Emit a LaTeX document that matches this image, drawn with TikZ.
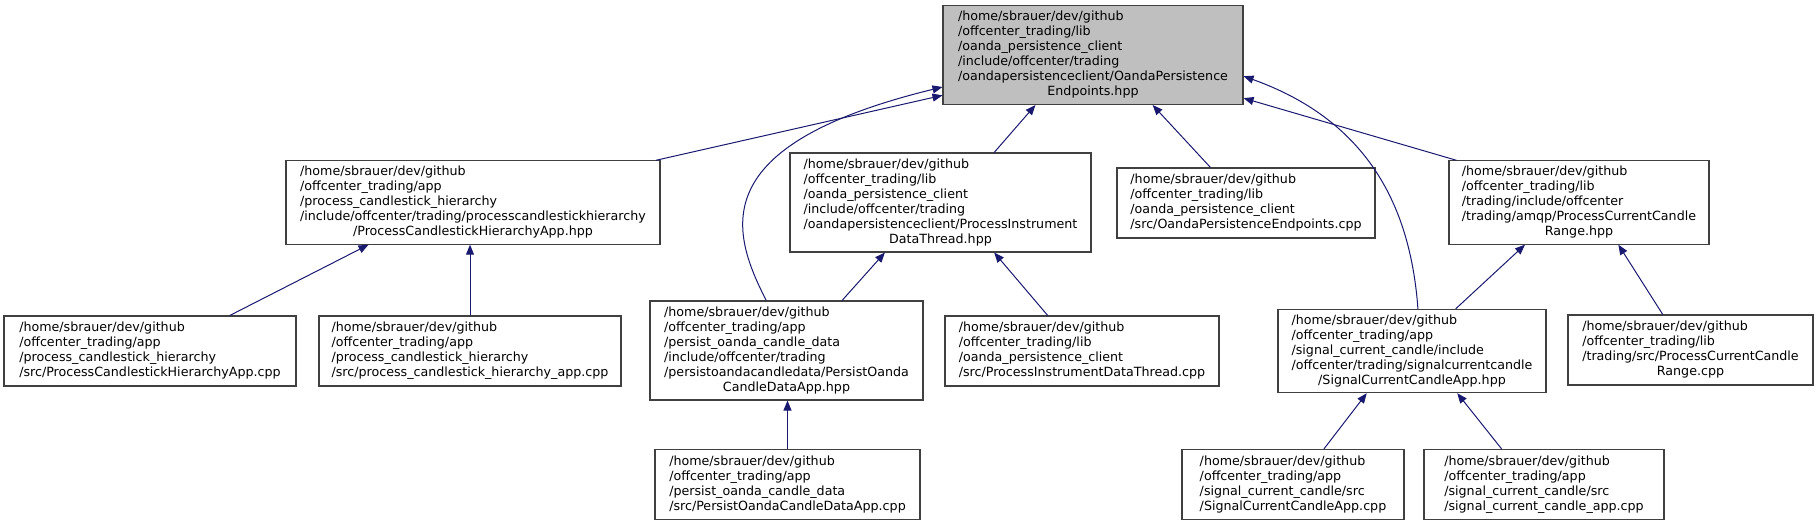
\documentclass[tikz,border=0pt]{standalone}
\usepackage{fontspec}
\setmainfont{DejaVu Sans}
\usetikzlibrary{arrows.meta}
\definecolor{edgeblue}{HTML}{191970}
\definecolor{boxline}{HTML}{404040}
\newcommand{\pathlines}[2]{\begin{tabular}{@{}l@{}}#1\\\multicolumn{1}{@{}c@{}}{#2}\end{tabular}}

\begin{document}
\begin{tikzpicture}[x=0.75pt,y=-0.75pt,
	file/.style={draw=boxline, line width=0.8pt, fill=white, inner sep=0pt, font=\fontsize{9.5}{11.25}\selectfont},
	four/.style={file, minimum height=52.5pt},
	five/.style={file, minimum height=62.5pt},
	six/.style={file, minimum height=74.25pt},
	edge/.style={-{Triangle[length=7.5pt,width=6pt]}, draw=edgeblue, line width=0.75pt}]
			\useasboundingbox (0,0) rectangle (1817,525);
			\node[six, fill=gray!50, minimum width=225pt] (root) at (1093,55) {\pathlines{/home/sbrauer/dev/github\\/offcenter\_trading/lib\\/oanda\_persistence\_client\\/include/offcenter/trading\\/oandapersistenceclient/OandaPersistence}{Endpoints.hpp}};
			\node[five, minimum width=280.5pt] (pchh) at (473,202.5) {\pathlines{/home/sbrauer/dev/github\\/offcenter\_trading/app\\/process\_candlestick\_hierarchy\\/include/offcenter/trading/processcandlestickhierarchy}{/ProcessCandlestickHierarchyApp.hpp}};
			\node[six, minimum width=225.75pt] (pidth) at (940.5,202.5) {\pathlines{/home/sbrauer/dev/github\\/offcenter\_trading/lib\\/oanda\_persistence\_client\\/include/offcenter/trading\\/oandapersistenceclient/ProcessInstrument}{DataThread.hpp}};
			\node[four, minimum width=193.5pt] (opec) at (1246,203) {\pathlines{/home/sbrauer/dev/github\\/offcenter\_trading/lib\\/oanda\_persistence\_client}{/src/OandaPersistenceEndpoints.cpp}};
			\node[five, minimum width=195pt] (pccrh) at (1579,202.5) {\pathlines{/home/sbrauer/dev/github\\/offcenter\_trading/lib\\/trading/include/offcenter\\/trading/amqp/ProcessCurrentCandle}{Range.hpp}};
			\node[four, minimum width=219pt] (pchac) at (150,351) {\pathlines{/home/sbrauer/dev/github\\/offcenter\_trading/app\\/process\_candlestick\_hierarchy}{/src/ProcessCandlestickHierarchyApp.cpp}};
			\node[four, minimum width=226.5pt] (pchsc) at (470,351) {\pathlines{/home/sbrauer/dev/github\\/offcenter\_trading/app\\/process\_candlestick\_hierarchy}{/src/process\_candlestick\_hierarchy\_app.cpp}};
			\node[six, minimum width=204.75pt] (pocdh) at (786.5,350.5) {\pathlines{/home/sbrauer/dev/github\\/offcenter\_trading/app\\/persist\_oanda\_candle\_data\\/include/offcenter/trading\\/persistoandacandledata/PersistOanda}{CandleDataApp.hpp}};
			\node[four, minimum width=205.5pt] (pidtc) at (1082,351) {\pathlines{/home/sbrauer/dev/github\\/offcenter\_trading/lib\\/oanda\_persistence\_client}{/src/ProcessInstrumentDataThread.cpp}};
			\node[five, minimum width=201pt] (scch) at (1412,351) {\pathlines{/home/sbrauer/dev/github\\/offcenter\_trading/app\\/signal\_current\_candle/include\\/offcenter/trading/signalcurrentcandle}{/SignalCurrentCandleApp.hpp}};
			\node[four, minimum width=183.75pt] (pccrc) at (1690.5,350) {\pathlines{/home/sbrauer/dev/github\\/offcenter\_trading/lib\\/trading/src/ProcessCurrentCandle}{Range.cpp}};
			\node[four, minimum width=198.75pt] (pocdc) at (787.5,484.5) {\pathlines{/home/sbrauer/dev/github\\/offcenter\_trading/app\\/persist\_oanda\_candle\_data}{/src/PersistOandaCandleDataApp.cpp}};
			\node[four, minimum width=166.5pt] (scacc) at (1293,484.5) {\pathlines{/home/sbrauer/dev/github\\/offcenter\_trading/app\\/signal\_current\_candle/src}{/SignalCurrentCandleApp.cpp}};
			\node[four, minimum width=180pt] (scapc) at (1544,484.5) {\pathlines{/home/sbrauer/dev/github\\/offcenter\_trading/app\\/signal\_current\_candle/src}{/signal\_current\_candle\_app.cpp}};
			\draw[edge] (pchh.13.7) -- (root.195);
			\draw[edge] (pocdh.112) .. controls (730,230) and (705,145) .. (root.192);
			\draw[edge] (pidth.43.3) -- (root.221);
			\draw[edge] (opec.135.8) -- (root.-40.7);
			\draw[edge] (pccrh.161) -- (root.-16);
			\draw[edge] (scch.82) .. controls (1410,200) and (1363,119) .. (root.-8.3);
			\draw[edge] (pchac.24.4) -- (pchh.202);
			\draw[edge] (pchsc.north) -- (pchsc.north |- pchh.south);
			\draw[edge] (pocdh.42.3) -- (pidth.222.8);
			\draw[edge] (pidtc.134.2) -- (pidth.-43.3);
			\draw[edge] (scch.44) -- (pccrh.218.6);
			\draw[edge] (pccrc.128.2) -- (pccrh.-47.5);
			\draw[edge] (pocdc.north) -- (pocdc.north |- pocdh.south);
			\draw[edge] (scacc.49) -- (scch.223);
			\draw[edge] (scapc.140) -- (scch.-43);
		\end{tikzpicture}
\end{document}
